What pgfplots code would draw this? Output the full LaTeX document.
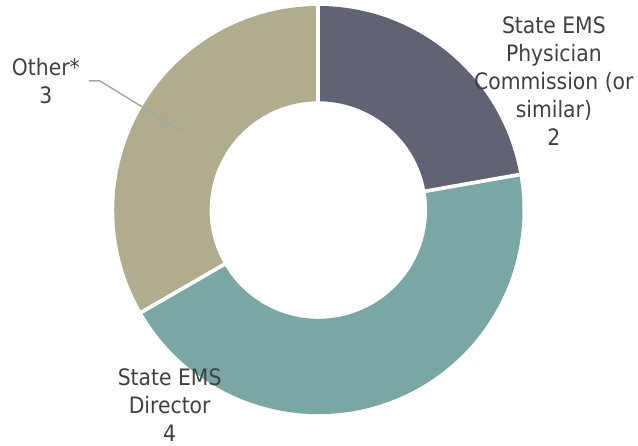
\documentclass[border=0pt]{standalone}
\usepackage{pgfplots}
\pgfplotsset{compat=1.18}
\usepackage{fontspec}
\setmainfont{DejaVu Sans Condensed}
\definecolor{cA}{HTML}{5F6374}
\definecolor{cB}{HTML}{79A7A3}
\definecolor{cC}{HTML}{B0AC8E}
\definecolor{txt}{HTML}{404040}
\definecolor{lead}{HTML}{A6A6A6}
% data
\def\vA{2}% State EMS Physician Commission (or similar)
\def\vB{4}% State EMS Director
\def\vC{3}% Other*
\pgfmathsetmacro\tot{\vA+\vB+\vC}
\pgfmathsetmacro\aA{90}
\pgfmathsetmacro\aB{\aA-360*\vA/\tot}
\pgfmathsetmacro\aC{\aB-360*\vB/\tot}
\pgfmathsetmacro\aD{\aC-360*\vC/\tot}
\def\cx{319}\def\cy{233.5}\def\Ro{204.5}\def\Ri{109}
\newcommand\slice[3]{%
  \fill[#1] (axis cs:{\cx+\Ro*cos(#2)},{\cy+\Ro*sin(#2)})
    arc[start angle=#2, end angle=#3, radius=\Ro*0.75pt]
    -- (axis cs:{\cx+\Ri*cos(#3)},{\cy+\Ri*sin(#3)})
    arc[start angle=#3, end angle=#2, radius=\Ri*0.75pt] -- cycle;}
\newcommand\sep[1]{%
  \draw[white, line width=2.8pt] (axis cs:{\cx+(\Ri-2)*cos(#1)},{\cy+(\Ri-2)*sin(#1)})
    -- (axis cs:{\cx+(\Ro+2)*cos(#1)},{\cy+(\Ro+2)*sin(#1)});}
\begin{document}
\begin{tikzpicture}
\begin{axis}[x=0.75pt, y=0.75pt, xmin=0, xmax=638, ymin=0, ymax=444,
  hide axis, clip=false]
\path (axis cs:0,0) rectangle (axis cs:638,444);
\slice{cA}{\aA}{\aB}
\slice{cB}{\aB}{\aC}
\slice{cC}{\aC}{\aD}
\sep{\aA}\sep{\aB}\sep{\aC}
\draw[lead, line width=1.1pt] (axis cs:89,363) -- (axis cs:100,363) -- (axis cs:183,312);
\begin{scope}[every node/.style={align=center, text=txt, font=\fontsize{17}{21}\selectfont}]
\node at (axis cs:555,363) {State EMS\\Physician\\Commission (or\\similar)\\2};
\node at (axis cs:46,363) {Other*\\3};
\node at (axis cs:170,38) {State EMS\\Director\\4};
\end{scope}
\end{axis}
\end{tikzpicture}
\end{document}
